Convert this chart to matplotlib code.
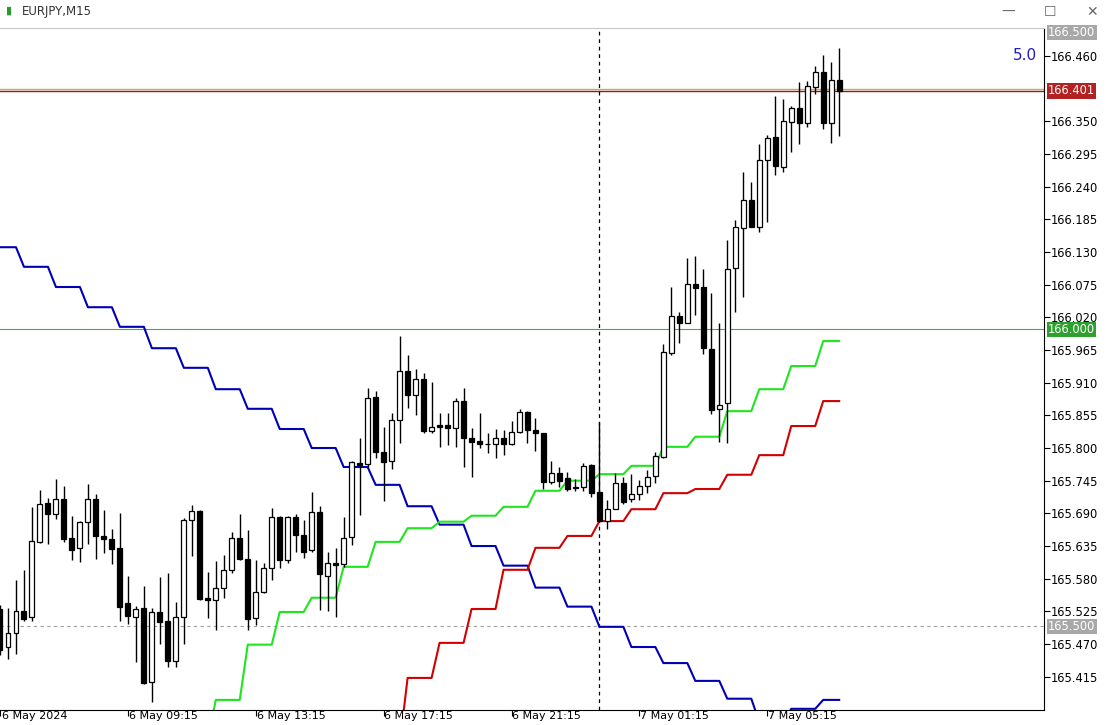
import numpy as np
import matplotlib
matplotlib.use("Agg")
import matplotlib.pyplot as plt
from matplotlib.transforms import blended_transform_factory

# EURJPY M15, 6 May 05:15 .. 7 May 07:30 (one row per candle)
opens = [165.529, 165.465, 165.489, 165.526, 165.516, 165.642, 165.708, 165.689, 165.714, 165.649,
         165.632, 165.676, 165.714, 165.652, 165.647, 165.632, 165.539, 165.516, 165.531, 165.406,
         165.524, 165.509, 165.442, 165.516, 165.679, 165.694, 165.548, 165.544, 165.565, 165.595,
         165.649, 165.613, 165.514, 165.558, 165.598, 165.684, 165.612, 165.684, 165.654, 165.628,
         165.692, 165.585, 165.607, 165.605, 165.650, 165.775, 165.773, 165.886, 165.793, 165.778,
         165.847, 165.930, 165.889, 165.916, 165.829, 165.839, 165.839, 165.834, 165.879, 165.817,
         165.812, 165.807, 165.807, 165.817, 165.807, 165.827, 165.861, 165.830, 165.825, 165.743,
         165.758, 165.750, 165.734, 165.734, 165.772, 165.726, 165.677, 165.697, 165.741, 165.714,
         165.723, 165.736, 165.753, 165.785, 165.960, 166.022, 166.010, 166.076, 166.071, 165.967,
         165.866, 165.876, 166.103, 166.170, 166.217, 166.172, 166.285, 166.323, 166.273, 166.349,
         166.372, 166.347, 166.408, 166.433, 166.347, 166.419]
highs = [165.536, 165.531, 165.577, 165.595, 165.701, 165.729, 165.716, 165.748, 165.736, 165.686,
         165.677, 165.740, 165.723, 165.696, 165.664, 165.691, 165.585, 165.534, 165.568, 165.531,
         165.583, 165.590, 165.541, 165.682, 165.704, 165.696, 165.591, 165.610, 165.620, 165.659,
         165.689, 165.662, 165.612, 165.607, 165.699, 165.686, 165.686, 165.689, 165.679, 165.726,
         165.702, 165.625, 165.632, 165.684, 165.778, 165.817, 165.901, 165.896, 165.835, 165.859,
         165.989, 165.957, 165.933, 165.926, 165.911, 165.859, 165.859, 165.884, 165.901, 165.834,
         165.859, 165.825, 165.832, 165.830, 165.846, 165.866, 165.862, 165.851, 165.826, 165.778,
         165.768, 165.760, 165.748, 165.775, 165.773, 165.844, 165.713, 165.758, 165.751, 165.756,
         165.746, 165.763, 165.793, 165.975, 166.071, 166.029, 166.120, 166.123, 166.101, 166.061,
         166.010, 166.150, 166.184, 166.265, 166.248, 166.312, 166.327, 166.392, 166.387, 166.376,
         166.416, 166.418, 166.443, 166.461, 166.450, 166.473]
lows = [165.452, 165.445, 165.453, 165.509, 165.509, 165.640, 165.639, 165.681, 165.642, 165.612,
        165.608, 165.639, 165.613, 165.623, 165.605, 165.509, 165.504, 165.440, 165.403, 165.373,
        165.470, 165.432, 165.432, 165.470, 165.618, 165.544, 165.514, 165.494, 165.548, 165.590,
        165.612, 165.494, 165.502, 165.556, 165.578, 165.598, 165.607, 165.625, 165.615, 165.625,
        165.528, 165.526, 165.516, 165.600, 165.637, 165.687, 165.768, 165.783, 165.711, 165.765,
        165.809, 165.867, 165.856, 165.825, 165.825, 165.802, 165.805, 165.802, 165.768, 165.751,
        165.800, 165.792, 165.783, 165.788, 165.805, 165.825, 165.809, 165.795, 165.731, 165.740,
        165.734, 165.728, 165.728, 165.728, 165.718, 165.676, 165.664, 165.697, 165.706, 165.709,
        165.713, 165.724, 165.741, 165.783, 165.957, 165.977, 166.010, 166.024, 165.958, 165.857,
        165.810, 165.809, 166.029, 166.054, 166.172, 166.164, 166.180, 166.260, 166.265, 166.298,
        166.312, 166.340, 166.396, 166.337, 166.313, 166.325]
closes = [165.460, 165.489, 165.526, 165.512, 165.644, 165.706, 165.689, 165.714, 165.647, 165.628,
          165.676, 165.714, 165.652, 165.647, 165.630, 165.533, 165.517, 165.529, 165.405, 165.524,
          165.507, 165.442, 165.516, 165.679, 165.694, 165.546, 165.544, 165.565, 165.595, 165.649,
          165.613, 165.512, 165.558, 165.598, 165.684, 165.612, 165.684, 165.654, 165.625, 165.692,
          165.588, 165.607, 165.603, 165.649, 165.777, 165.772, 165.884, 165.793, 165.777, 165.847,
          165.930, 165.889, 165.916, 165.829, 165.835, 165.835, 165.834, 165.879, 165.817, 165.810,
          165.807, 165.806, 165.817, 165.807, 165.827, 165.861, 165.830, 165.825, 165.743, 165.758,
          165.745, 165.731, 165.733, 165.770, 165.724, 165.677, 165.697, 165.741, 165.709, 165.723,
          165.736, 165.751, 165.787, 165.962, 166.022, 166.010, 166.076, 166.069, 165.968, 165.864,
          165.872, 166.101, 166.172, 166.217, 166.172, 166.285, 166.322, 166.275, 166.350, 166.372,
          166.347, 166.409, 166.433, 166.347, 166.419, 166.401]

# hourly indicator values (one per hour, the first hour only partly visible)
blue_hourly = [166.138, 166.105, 166.071, 166.037, 166.004, 165.968, 165.935, 165.899, 165.866,
               165.832, 165.800, 165.768, 165.738, 165.702, 165.671, 165.635, 165.602, 165.565,
               165.533, 165.499, 165.465, 165.438, 165.408, 165.378, 165.339, 165.361, 165.376]
green_hourly = [np.nan, np.nan, np.nan, np.nan, np.nan, np.nan, 165.309, 165.376, 165.469,
                165.524, 165.548, 165.600, 165.642, 165.665, 165.676, 165.686, 165.701, 165.728,
                165.745, 165.756, 165.770, 165.802, 165.819, 165.862, 165.899, 165.938, 165.980]
red_hourly = [np.nan] * 12 + [165.300, 165.413, 165.472, 165.529, 165.595, 165.632, 165.652,
                              165.677, 165.697, 165.724, 165.731, 165.755, 165.788, 165.837, 165.879]

yticks = [165.415, 165.470, 165.525, 165.580, 165.635, 165.690, 165.745, 165.800, 165.855,
          165.910, 165.965, 166.020, 166.075, 166.130, 166.185, 166.240, 166.295, 166.350, 166.460]
time_labels = ["6 May 2024", "6 May 09:15", "6 May 13:15", "6 May 17:15", "6 May 21:15",
               "7 May 01:15", "7 May 05:15"]
time_label_idx = [0, 16, 32, 48, 64, 80, 96]
bid, ask = 166.401, 166.405
crosshair_idx = 75

o, h, l, c = map(np.array, (opens, highs, lows, closes))
idx = np.arange(len(o))
hour_of = (idx + 1) // 4
blue = np.array(blue_hourly)[hour_of]
green = np.array(green_hourly)[hour_of]
red = np.array(red_hourly)[hour_of]

W, H = 1112, 725
fig = plt.figure(figsize=(W / 100, H / 100), dpi=100)
fig.patch.set_facecolor("white")
ax = fig.add_axes([0, 15 / H, 1044 / W, (710 - 28) / H])
ax.set_xlim(0.125, 130.625)
ax.set_ylim(165.359, 166.507)

# indicator lines
ax.plot(idx, blue, color="#0000b4", lw=1.5, zorder=2)
ax.plot(idx, green, color="#1ee61e", lw=1.5, zorder=2)
ax.plot(idx, red, color="#d20000", lw=1.5, zorder=2)

# reference lines
ax.axhline(166.0, color="#3cb43c", lw=0.8, zorder=1)
ax.axhline(165.5, color="#a0a0a0", lw=0.8, ls=(0, (3, 3)), zorder=1)
ax.axhline(ask, color="#d9a84e", lw=1.0, zorder=1)
ax.axhline(bid, color="#8b2020", lw=1.0, zorder=1)
ax.axvline(crosshair_idx, color="black", lw=0.9, ls=(0, (3, 3)), zorder=1)

# candles
ax.vlines(idx, l, h, color="black", lw=1.0, zorder=3)
up = c >= o
bottom = np.minimum(o, c)
height = np.maximum(np.abs(c - o), 0.0008)
ax.bar(idx, height, bottom=bottom, width=0.62,
       color=np.where(up, "white", "black"), edgecolor="black", lw=0.9, zorder=4)

ax.set_yticks(yticks)
ax.yaxis.tick_right()
ax.tick_params(axis="y", direction="out", length=4, pad=1, labelsize=8.3)
ax.set_yticklabels([f"{v:.3f}" for v in yticks])
ax.set_xticks(time_label_idx)
ax.set_xticklabels([])
ax.tick_params(axis="x", direction="out", length=4)
ax.spines["left"].set_visible(False)
ax.spines["top"].set_color("#c8c8c8")

tr = blended_transform_factory(ax.transData, ax.transAxes)
for i, lab in zip(time_label_idx, time_labels):
    ax.text(i + 0.1 if i else 0.2, -0.002, lab, transform=tr, ha="left", va="top", fontsize=8)

# price boxes on the right axis
trr = blended_transform_factory(ax.transAxes, ax.transData)
for val, fc in [(166.5, "#a8a8a8"), (bid, "#b22222"), (166.0, "#2ea02e"), (165.5, "#a8a8a8")]:
    ax.text(1.004, val, f"{val:.3f}", transform=trr, ha="left", va="center", fontsize=8.3,
            color="white", bbox=dict(boxstyle="square,pad=0.1", fc=fc, ec="none"), clip_on=False)

ax.text(0.993, 0.96, "5.0", transform=ax.transAxes, ha="right", va="center",
        fontsize=11, color="#1e1ec8")

# window title bar
fig.text(22 / W, 1 - 11 / H, "EURJPY,M15", fontsize=8.5, va="center", ha="left", color="#333333")
fig.text(6 / W, 1 - 11 / H, "▮", fontsize=8, va="center", ha="left", color="#2a9a2a")
for xp, s in [(1008, "—"), (1050, "☐"), (1092, "✕")]:
    fig.text(xp / W, 1 - 12 / H, s, fontsize=10, va="center", ha="center", color="#666666")

fig.savefig("out.png", dpi=100)
